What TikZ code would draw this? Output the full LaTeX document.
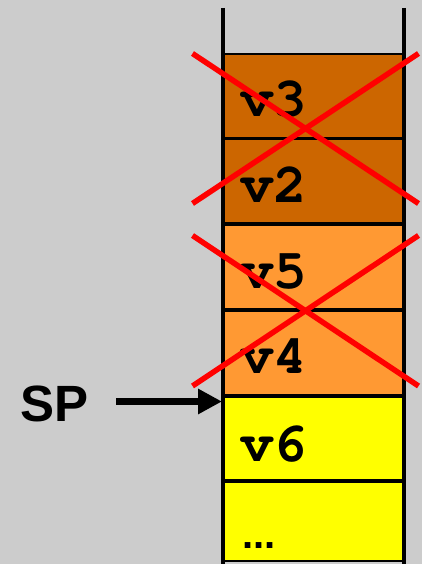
\documentclass[tikz,border=0pt]{standalone}
\usepackage{fontspec}
\setmainfont{Liberation Sans}
\newfontfamily\stackmono{texgyrecursor-bold.otf}
\usetikzlibrary{arrows.meta}
\definecolor{bgc}{HTML}{CCCCCC}
\definecolor{darkor}{HTML}{CC6600}
\definecolor{lightor}{HTML}{FF9933}
\definecolor{yel}{HTML}{FFFF00}
\definecolor{xred}{HTML}{FF0000}
\tikzset{
  slot/.style={draw=black, line width=1.6pt, minimum width=179pt, inner sep=0pt, outer sep=0pt},
  vlab/.style={anchor=base west, inner sep=0pt, font=\stackmono\fontsize{56}{56}\selectfont},
  cross/.style={draw=xred, line width=5.5pt},
  frame/.style={line width=4.5pt},
  sparrow/.style={line width=7pt, -{Triangle[length=24pt,width=24pt]}}
}
\begin{document}
\begin{tikzpicture}[x=1pt,y=-1pt]
\useasboundingbox[fill=bgc] (0,0) rectangle (422,564);
% slots
\node[slot, fill=darkor, minimum height=84pt] (b3) at (313.5,96) {};
\node[slot, fill=darkor, minimum height=84pt] (b2) at (313.5,181) {};
\node[slot, fill=lightor, minimum height=84pt] (b5) at (313.5,267) {};
\node[slot, fill=lightor, minimum height=84pt] (b4) at (313.5,353) {};
\node[slot, fill=yel, minimum height=83pt] (b6) at (313.5,438.5) {};
\node[slot, fill=yel, minimum height=79pt] (bd) at (313.5,521.5) {};
% labels
\node[vlab] (t3) at (240,117) {v3};
\node[vlab] (t2) at (240,202) {v2};
\node[vlab] (t5) at (240,288) {v5};
\node[vlab] (t4) at (240,373) {v4};
\node[vlab] (t6) at (240,461) {v6};
\node[anchor=base west, inner sep=0pt, font=\bfseries\fontsize{40}{40}\selectfont] (td) at (242,548) {...};
% frame
\draw[frame] (223,8) -- (223,564);
\draw[frame] (404,8) -- (404,564);
% crosses
\draw[cross] (192.5,53.5) -- (418.5,203.5);
\draw[cross] (192.5,203.5) -- (418.5,53.5);
\draw[cross] (192.5,235.5) -- (418.5,386);
\draw[cross] (192.5,386) -- (418.5,235.5);
% SP
\node[anchor=base west, inner sep=0pt, font=\bfseries\fontsize{51}{51}\selectfont] (sp) at (20,421.5) {SP};
\coordinate (arrs) at (116,401.5);
\coordinate (arre) at (222,401.5);
\draw[sparrow] (arrs) -- (arre);
\end{tikzpicture}
\end{document}
